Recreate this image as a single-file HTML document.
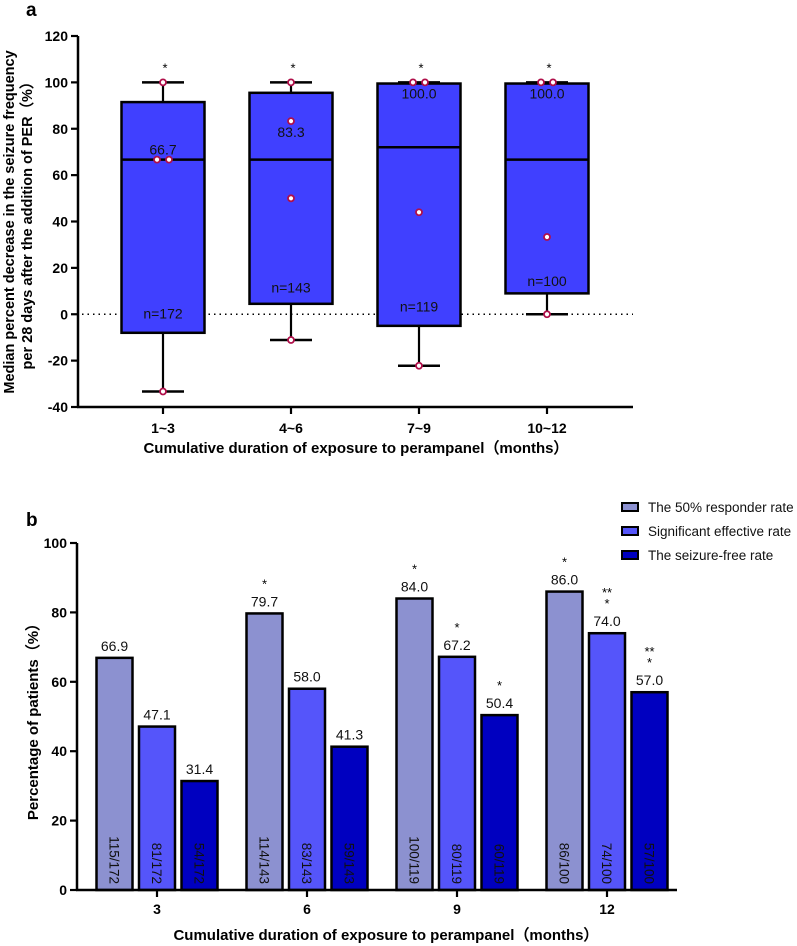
<!DOCTYPE html>
<html><head><meta charset="utf-8">
<style>
body{margin:0;background:#fff;}
svg{display:block;font-family:"Liberation Sans",Arial,sans-serif;}
</style></head>
<body>
<svg id="fig" width="797" height="946" viewBox="0 0 797 946">
  <text x="26" y="16" font-size="19" font-weight="bold">a</text>
  <g id="chartA"></g>
  <text x="26" y="526" font-size="19" font-weight="bold">b</text>
  <g id="chartB"></g>
</svg>
<script>
// ---------- Chart A data ----------
const aCategories = ["1~3","4~6","7~9","10~12"];
const aQ1 = [-8, 4.5, -5, 9];
const aQ3 = [91.5, 95.5, 99.5, 99.5];
const aMedian = [66.7, 66.7, 72, 66.7];
const aWhiskerLow = [-33.3, -11.1, -22.2, 0];
const aWhiskerHigh = [100, 100, 100, 100];
const aPoints = [[100, 66.7, 66.7, -33.3],[100, 83.3, 50, -11.1],[100, 100, 44, -22.2],[100, 100, 33.3, 0]];
const aValueLabels = ["66.7","83.3","100.0","100.0"];
const aValueLabelPos = [66.7, 83.3, 100, 100];
const aNLabels = ["n=172","n=143","n=119","n=100"];
const aNLabelPos = [0, 11, 3, 14];
const aYTicks = [-40,-20,0,20,40,60,80,100,120];

// ---------- Chart B data ----------
const bCategories = ["3","6","9","12"];
const bSeries = ["The 50% responder rate","Significant effective rate","The seizure-free rate"];
const bResponder = [66.9, 79.7, 84.0, 86.0];
const bSignificant = [47.1, 58.0, 67.2, 74.0];
const bSeizureFree = [31.4, 41.3, 50.4, 57.0];
const bResponderFrac = ["115/172","114/143","100/119","86/100"];
const bSignificantFrac = ["81/172","83/143","80/119","74/100"];
const bSeizureFreeFrac = ["54/172","59/143","60/119","57/100"];
const bResponderStars = ["","*","*","*"];
const bSignificantStars = ["","","*","**\n*"];
const bSeizureFreeStars = ["","","*","**\n*"];
const bYTicks = [0,20,40,60,80,100];

const NS = "http://www.w3.org/2000/svg";
function mk(parent, tag, attrs, text){
  const e = document.createElementNS(NS, tag);
  for (const k in attrs) e.setAttribute(k, attrs[k]);
  if (text !== undefined) e.textContent = text;
  parent.appendChild(e);
  return e;
}

// ---------- Chart A ----------
(function(){
  const g = document.getElementById("chartA");
  const x0 = 78, x1 = 633, yTop = 36, yBot = 407;
  const ymin = -40, ymax = 120;
  const yS = v => yBot - (v - ymin) / (ymax - ymin) * (yBot - yTop);
  const xS = i => 163 + i * 128;
  const bw = 83;

  let e;
  e = mk(g, "line", {x1:x0+4, x2:x1, y1:yS(0), y2:yS(0), stroke:"#000", "stroke-width":1.5, "stroke-dasharray":"1.5,4"});
  
  

  aCategories.forEach((c, i) => {
    const cx = xS(i);
    const bg = mk(g, "g", {});
    
    
    mk(bg, "line", {x1:cx, x2:cx, y1:yS(aWhiskerHigh[i]), y2:yS(aQ3[i]), stroke:"#000", "stroke-width":2.2});
    mk(bg, "line", {x1:cx, x2:cx, y1:yS(aQ1[i]), y2:yS(aWhiskerLow[i]), stroke:"#000", "stroke-width":2.2});
    mk(bg, "line", {x1:cx-21, x2:cx+21, y1:yS(aWhiskerHigh[i]), y2:yS(aWhiskerHigh[i]), stroke:"#000", "stroke-width":2.5});
    mk(bg, "line", {x1:cx-21, x2:cx+21, y1:yS(aWhiskerLow[i]), y2:yS(aWhiskerLow[i]), stroke:"#000", "stroke-width":2.5});
    mk(bg, "rect", {x:cx-bw/2, y:yS(aQ3[i]), width:bw, height:yS(aQ1[i])-yS(aQ3[i]), fill:"#4040FF", stroke:"#000", "stroke-width":2.5});
    mk(bg, "line", {x1:cx-bw/2, x2:cx+bw/2, y1:yS(aMedian[i]), y2:yS(aMedian[i]), stroke:"#000", "stroke-width":2.5});
    const pts = aPoints[i];
    pts.forEach((v, j) => {
      const dup = pts.filter(p => p === v).length > 1;
      const idx = pts.slice(0, j).filter(p => p === v).length;
      const px = dup ? cx - 6 + idx * 12 : cx;
      const p = mk(bg, "circle", {cx:px, cy:yS(v), r:3, fill:"#fff", stroke:"#B0104A", "stroke-width":1.8});
      
      
    });
    e = mk(g, "text", {x:cx, y:yS(aValueLabelPos[i]) + (i===0 ? -5 : 16), "font-size":14, "text-anchor":"middle", fill:"#111"}, aValueLabels[i]);
    
    
    e = mk(g, "text", {x:cx, y:yS(aNLabelPos[i]) + 4, "font-size":14, "text-anchor":"middle", fill:"#111"}, aNLabels[i]);
    
    
    e = mk(g, "text", {x:cx+2, y:yS(aWhiskerHigh[i]) - 10, "font-size":13, "text-anchor":"middle"}, "*");
    
    
    mk(g, "line", {x1:cx, x2:cx, y1:yBot, y2:yBot+7, stroke:"#000", "stroke-width":2.2});
    e = mk(g, "text", {x:cx, y:yBot+26, "font-size":14, "font-weight":"bold", "text-anchor":"middle"}, c);
    
    
  });

  e = mk(g, "line", {x1:x0, x2:x0, y1:yTop, y2:yBot+1, stroke:"#000", "stroke-width":2.5});
  
  
  e = mk(g, "line", {x1:x0-1, x2:x1, y1:yBot, y2:yBot, stroke:"#000", "stroke-width":2.5});
  
  
  aYTicks.forEach(t => {
    mk(g, "line", {x1:x0-7, x2:x0, y1:yS(t), y2:yS(t), stroke:"#000", "stroke-width":2.2});
    const tl = mk(g, "text", {x:x0-10, y:yS(t)+5, "font-size":14, "font-weight":"bold", "text-anchor":"end"}, t);
    
    
  });
  e = mk(g, "text", {x:356, y:453, "font-size":15, "font-weight":"bold", "text-anchor":"middle"}, "Cumulative duration of exposure to perampanel\uFF08months\uFF09");
  
  
  e = mk(g, "text", {transform:"translate(14,222) rotate(-90)", "font-size":14.5, "font-weight":"bold", "text-anchor":"middle"}, "Median percent decrease in the seizure frequency");
  
  
  e = mk(g, "text", {transform:"translate(32,222) rotate(-90)", "font-size":14.5, "font-weight":"bold", "text-anchor":"middle"}, "per 28 days after the addition of PER\uFF08%\uFF09");
  
  
})();

// ---------- Chart B ----------
(function(){
  const g = document.getElementById("chartB");
  const x0 = 77, x1 = 677, yTop = 543, yBot = 890;
  const yS = v => yBot - v / 100 * (yBot - yTop);
  const xS = i => 157 + i * 150;
  const bw = 36, step = 42.5;
  const colors = ["#8C91D0","#5555FA","#0000C0"];
  const vals = [bResponder, bSignificant, bSeizureFree];
  const fracs = [bResponderFrac, bSignificantFrac, bSeizureFreeFrac];
  const stars = [bResponderStars, bSignificantStars, bSeizureFreeStars];
  let e;
  bCategories.forEach((c, i) => {
    const cx = xS(i);
    vals.forEach((arr, s) => {
      const bx = cx + (s - 1) * step;
      const v = arr[i];
      const r = mk(g, "rect", {x:bx-bw/2, y:yS(v), width:bw, height:yBot-yS(v), fill:colors[s], stroke:"#000", "stroke-width":2.5});
      
      
      const t = mk(g, "text", {x:bx, y:yS(v)-7, "font-size":14, "text-anchor":"middle", fill:"#111"}, v.toFixed(1));
      
      
      const f = mk(g, "text", {transform:"translate(" + (bx-5) + "," + (yBot-6) + ") rotate(90)", "font-size":13.5, "text-anchor":"end", fill:"#111"}, fracs[s][i]);
      
      
      const st = stars[s][i];
      if (st) {
        const lines = st.split("\n");
        lines.forEach((ln, k) => {
          const sy = yS(v) - 25 - (lines.length - 1 - k) * 11;
          const se = mk(g, "text", {x:bx, y:sy, "font-size":13, "text-anchor":"middle"}, ln);
          
          
        });
      }
    });
    mk(g, "line", {x1:cx, x2:cx, y1:yBot, y2:yBot+7, stroke:"#000", "stroke-width":2.2});
    e = mk(g, "text", {x:cx, y:yBot+24, "font-size":14, "font-weight":"bold", "text-anchor":"middle"}, c);
    
    
  });
  e = mk(g, "line", {x1:x0, x2:x0, y1:yTop, y2:yBot+1, stroke:"#000", "stroke-width":2.5});
  
  
  e = mk(g, "line", {x1:x0-1, x2:x1, y1:yBot, y2:yBot, stroke:"#000", "stroke-width":2.5});
  
  
  bYTicks.forEach(t => {
    mk(g, "line", {x1:x0-7, x2:x0, y1:yS(t), y2:yS(t), stroke:"#000", "stroke-width":2.2});
    const tl = mk(g, "text", {x:x0-10, y:yS(t)+5, "font-size":14, "font-weight":"bold", "text-anchor":"end"}, t);
    
    
  });
  e = mk(g, "text", {x:386, y:940, "font-size":15, "font-weight":"bold", "text-anchor":"middle"}, "Cumulative duration of exposure to perampanel\uFF08months\uFF09");
  
  
  e = mk(g, "text", {transform:"translate(38,718) rotate(-90)", "font-size":15, "font-weight":"bold", "text-anchor":"middle"}, "Percentage of patients\uFF08%\uFF09");
  
  
  bSeries.forEach((s, k) => {
    const ly = 507 + k * 24;
    const lg = mk(g, "g", {});
    
    
    mk(lg, "rect", {x:622, y:ly-4, width:16, height:8, fill:colors[k], stroke:"#000", "stroke-width":2});
    mk(lg, "text", {x:648, y:ly+5, "font-size":13.5, fill:"#111"}, s);
  });
})();
</script>
</body></html>
